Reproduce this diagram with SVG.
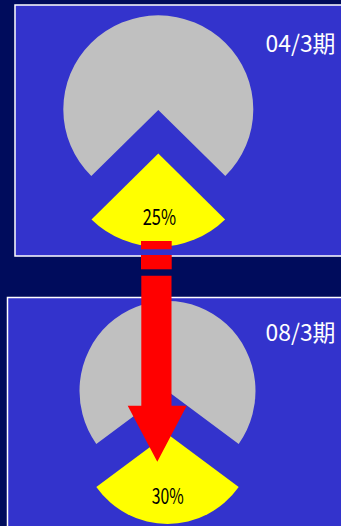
<svg xmlns="http://www.w3.org/2000/svg" width="341" height="526" viewBox="0 0 341 526">
<style>
.panel{fill:#3333CC;stroke:#FFFFFF;stroke-width:1.5}
.grey{fill:#C0C0C0}
.yel{fill:#FFFF00}
.red{fill:#FF0000}
.lbl{font-family:"Noto Sans CJK JP",sans-serif;font-weight:400;fill:#000000}
.per{font-family:"Noto Sans CJK JP",sans-serif;font-weight:400;fill:#FFFFFF}
</style>
<rect x="0" y="0" width="341" height="526" fill="#000C5C"/>
<g id="period-04">
<rect class="panel" x="15" y="5" width="340" height="251"/>
<path class="grey" d="M158.3 110 L91.3 176 A95 94 0 1 1 225.3 176 Z"/>
<path class="yel" d="M158.3 153.5 L91.5 219.5 A95 94 0 0 0 225.1 219.5 Z"/>
<text class="lbl" x="142.7" y="224.5" font-size="22" textLength="33.3" lengthAdjust="spacingAndGlyphs">25%</text>
<text class="per" x="265.5" y="51.8" font-size="23" textLength="70" lengthAdjust="spacingAndGlyphs">04/3期</text>
</g>
<g id="period-08">
<rect class="panel" x="7.5" y="297.5" width="350" height="240"/>
<path class="grey" d="M167.5 391 L96.3 443.9 A88 90 0 1 1 238.7 443.9 Z"/>
<path class="yel" d="M167.5 434 L96.3 486.9 A88 90 0 0 0 238.7 486.9 Z"/>
<text class="lbl" x="151.7" y="504.3" font-size="21.5" textLength="32" lengthAdjust="spacingAndGlyphs">30%</text>
<text class="per" x="265.5" y="340.7" font-size="23" textLength="70" lengthAdjust="spacingAndGlyphs">08/3期</text>
</g>
<g id="connectors">
<rect class="red" x="141" y="241" width="30.7" height="8.3"/>
<rect class="red" x="141" y="255" width="30.7" height="14.3"/>
<path class="red" d="M141.3 275.7 L171.5 275.7 L171.5 405.7 L186.7 405.7 L157.3 461.7 L127.7 405.7 L141.3 405.7 Z"/>
</g>
</svg>
